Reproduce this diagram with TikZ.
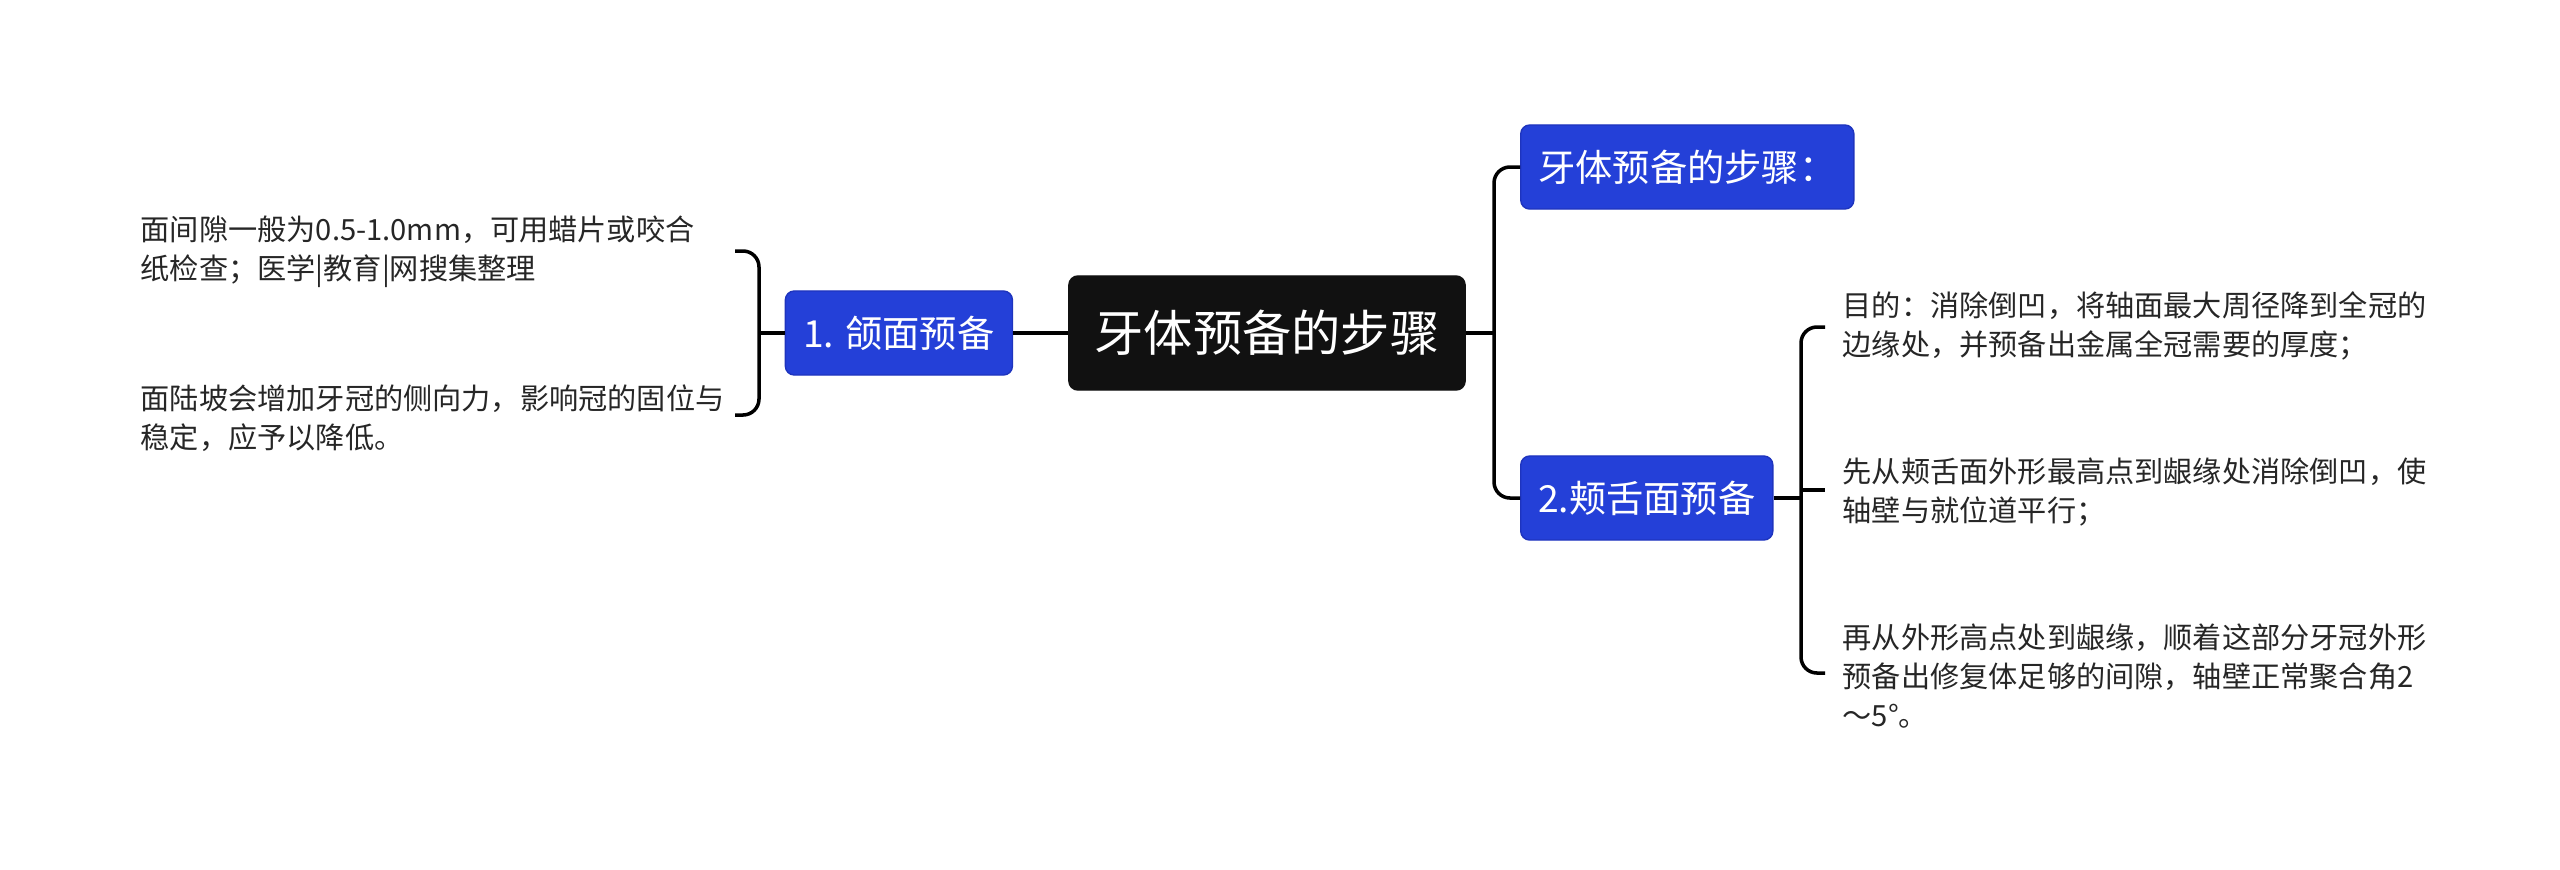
\documentclass[tikz,border=0pt]{standalone}
\usepackage{fontspec}
\setmainfont{Noto Sans CJK SC}
\usetikzlibrary{positioning}
\definecolor{colorRaiz}{RGB}{17,17,17}
\definecolor{colorRama}{RGB}{36,64,216}
\definecolor{colorBorde}{RGB}{30,52,190}

\begin{document}
\begin{tikzpicture}[
	x=0.01cm, y=-0.01cm,
	raiz/.style={rectangle, rounded corners=0.09cm, fill=colorRaiz, draw=colorRaiz, text=white,
	             font=\fontsize{14}{17}\selectfont, minimum width=3.96cm, minimum height=1.14cm, inner sep=2pt},
	rama/.style={rectangle, rounded corners=0.09cm, fill=colorRama, draw=colorBorde, line width=0.4pt,
	             text=white, font=\fontsize{10.6}{13}\selectfont, minimum height=0.84cm, inner sep=2pt},
	hoja/.style={align=left, anchor=west, inner sep=0pt, text=black!85, font=\fontsize{8.3}{11.2}\selectfont},
	linea/.style={draw=black, line width=1pt},
	llave/.style={linea, rounded corners=0.16cm},
	]

\useasboundingbox (0,0) rectangle (2560,869);

% Nodo central
\node[raiz] (raiz) at (1267,333) {牙体预备的步骤};

% Rama izquierda
\node[rama, minimum width=2.27cm, left=0.55cm of raiz] (r1) {1. 颌面预备};

% Ramas derechas
\node[rama, minimum width=3.33cm, anchor=west] (r0) at (1520,167) {牙体预备的步骤：};
\node[rama, minimum width=2.52cm, anchor=west] (r2) at (1520,498) {2.颊舌面预备};

% Hojas
\node[hoja] (h1) at (140,252) {面间隙一般为0.5-1.0mm，可用蜡片或咬合\\纸检查；医学|教育|网搜集整理};
\node[hoja] (h2) at (140,418) {面陆坡会增加牙冠的侧向力，影响冠的固位与\\稳定，应予以降低。};
\node[hoja] (h3) at (1842,326) {目的：消除倒凹，将轴面最大周径降到全冠的\\边缘处，并预备出金属全冠需要的厚度；};
\node[hoja] (h4) at (1842,492) {先从颊舌面外形最高点到龈缘处消除倒凹，使\\轴壁与就位道平行；};
\node[hoja] (h5) at (1842,676) {再从外形高点处到龈缘，顺着这部分牙冠外形\\预备出修复体足够的间隙，轴壁正常聚合角2\\～5°。};

% Puntos de union
\coordinate (jIzq) at (759,333);
\coordinate (jDer) at (1494,333);
\coordinate (jHoja) at (1801,498);
\coordinate (iA) at (735,251);
\coordinate (iB) at (735,415);
\coordinate (dA) at (1825,327);
\coordinate (dB) at (1825,490);
\coordinate (dC) at (1825,673);

% Conectores
\draw[linea] (raiz.west) -- (r1.east);
\draw[linea] (r1.west) -- (jIzq);
\draw[llave] (iA) -| (jIzq) |- (iB);

\draw[linea] (raiz.east) -- (jDer);
\draw[llave] (r0.west) -| (jDer) |- (r2.west);

\draw[linea] (r2.east) -- (jHoja);
\draw[llave] (dA) -| (jHoja) |- (dC);
\draw[linea] (jHoja |- dB) -- (dB);

\end{tikzpicture}
\end{document}
